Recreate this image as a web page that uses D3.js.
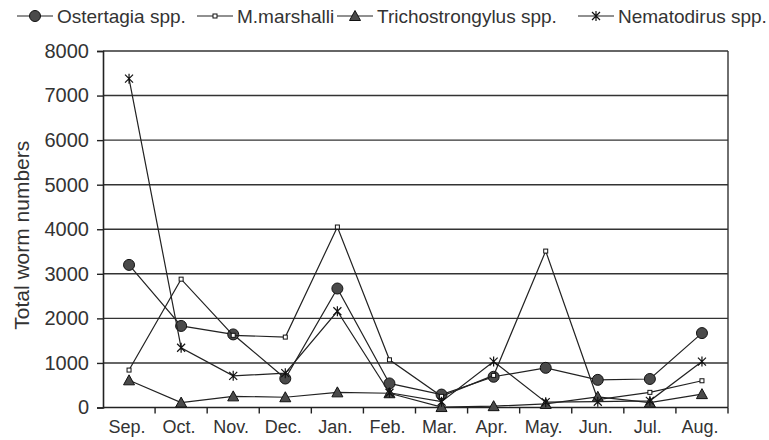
<!DOCTYPE html>
<html>
<head>
<meta charset="utf-8">
<script src="https://cdn.jsdelivr.net/npm/d3@7"></script>
<style>
  body { margin: 0; background: #fff; overflow: hidden; }
  text { font-family: "Liberation Sans", Arial, sans-serif; fill: #333; }
</style>
</head>
<body>
<div id="chart"></div>
<script>
// months on the x axis
var months = ["Sep.", "Oct.", "Nov.", "Dec.", "Jan.", "Feb.", "Mar.", "Apr.", "May.", "Jun.", "Jul.", "Aug."];
// worm counts
var ostertagia = [3200, 1830, 1640, 650, 2670, 540, 290, 690, 890, 620, 640, 1670];
var marshalli = [840, 2880, 1620, 1580, 4050, 1070, 250, 720, 3510, 180, 340, 600];
var trichostrongylus = [610, 110, 250, 230, 340, 320, 10, 30, 80, 240, 110, 300];
var nematodirus = [7380, 1340, 710, 770, 2160, 330, 130, 1030, 120, 130, 150, 1030];
var yTicks = [0, 1000, 2000, 3000, 4000, 5000, 6000, 7000, 8000];

var series = [
  {name: "Ostertagia spp.", values: ostertagia, marker: "circle"},
  {name: "M.marshalli", values: marshalli, marker: "square"},
  {name: "Trichostrongylus spp.", values: trichostrongylus, marker: "triangle"},
  {name: "Nematodirus spp.", values: nematodirus, marker: "star"}
];

var w = 769, h = 440;
var pLeft = 103, pRight = 728, pTop = 51, pBottom = 407.5;

var svg = d3.select("#chart").append("svg")
  .attr("width", w)
  .attr("height", h);

var x = d3.scaleBand().domain(months).range([pLeft, pRight]).padding(0);
var y = d3.scaleLinear().domain([0, 8000]).range([pBottom, pTop]);
var cx = function(i) { return x(months[i]) + x.bandwidth() / 2; };

// grid lines
svg.append("g").selectAll("line")
  .data(yTicks.filter(function(d) { return d > 0; }))
  .enter().append("line")
  .attr("x1", pLeft).attr("x2", pRight)
  .attr("y1", function(d) { return y(d); })
  .attr("y2", function(d) { return y(d); })
  .attr("stroke", "#333").attr("stroke-width", 1.4);

// right border
svg.append("line")
  .attr("x1", pRight).attr("x2", pRight).attr("y1", pTop).attr("y2", pBottom)
  .attr("stroke", "#333").attr("stroke-width", 1.4);

// y axis
var yAxis = svg.append("g")
  .attr("transform", "translate(" + pLeft + ",0)")
  .call(d3.axisLeft(y).tickValues(yTicks).tickSize(6).tickPadding(8).tickFormat(d3.format("d")));
yAxis.select(".domain").attr("stroke", "#222").attr("stroke-width", 1.6);
yAxis.selectAll(".tick line").attr("stroke", "#222").attr("stroke-width", 1.4);
yAxis.selectAll("text").attr("font-size", "20px").attr("fill", "#333")
  .style("font-family", "'Liberation Sans', Arial, sans-serif");

// x axis
svg.append("line")
  .attr("x1", pLeft).attr("x2", pRight).attr("y1", pBottom).attr("y2", pBottom)
  .attr("stroke", "#222").attr("stroke-width", 1.6);
svg.append("g").selectAll("line")
  .data(months.slice(1).concat(["end"]))
  .enter().append("line")
  .attr("x1", function(d) { return d === "end" ? pRight : x(d); })
  .attr("x2", function(d) { return d === "end" ? pRight : x(d); })
  .attr("y1", pBottom).attr("y2", pBottom + 6)
  .attr("stroke", "#222").attr("stroke-width", 1.4);
svg.append("g").selectAll("text")
  .data(months)
  .enter().append("text")
  .attr("x", function(d, i) { return cx(i) - 2; })
  .attr("y", 433)
  .attr("text-anchor", "middle")
  .attr("font-size", "18px")
  .text(function(d) { return d; });

// y axis title
svg.append("text")
  .attr("transform", "translate(29," + ((pTop + pBottom) / 2 + 6) + ") rotate(-90)")
  .attr("text-anchor", "middle")
  .attr("font-size", "21px")
  .text("Total worm numbers");

// markers
function drawMarker(g, type, px, py) {
  if (type === "circle") {
    g.append("circle").attr("cx", px).attr("cy", py).attr("r", 5.5)
      .attr("fill", "#4a4a4a").attr("stroke", "#111").attr("stroke-width", 1);
  } else if (type === "square") {
    g.append("rect").attr("x", px - 2).attr("y", py - 2).attr("width", 4).attr("height", 4)
      .attr("fill", "#fff").attr("stroke", "#111").attr("stroke-width", 1);
  } else if (type === "triangle") {
    g.append("path")
      .attr("d", "M" + px + "," + (py - 5.5) + " L" + (px + 5.5) + "," + (py + 4.5) + " L" + (px - 5.5) + "," + (py + 4.5) + " Z")
      .attr("fill", "#4a4a4a").attr("stroke", "#111").attr("stroke-width", 1);
  } else {
    var s = 4;
    g.append("path")
      .attr("d", "M" + (px - s) + "," + (py - s) + " L" + (px + s) + "," + (py + s) +
                 " M" + (px + s) + "," + (py - s) + " L" + (px - s) + "," + (py + s) +
                 " M" + px + "," + (py - s - 1) + " L" + px + "," + (py + s + 1))
      .attr("stroke", "#111").attr("stroke-width", 1.2).attr("fill", "none");
  }
}

var line = d3.line()
  .x(function(d, i) { return cx(i); })
  .y(function(d) { return y(d); });

series.forEach(function(s) {
  var g = svg.append("g");
  g.append("path").attr("d", line(s.values))
    .attr("fill", "none").attr("stroke", "#222").attr("stroke-width", 1.2);
  s.values.forEach(function(v, i) { drawMarker(g, s.marker, cx(i), y(v)); });
});

// legend
var legendX = [17, 197, 337, 578];
var lg = svg.append("g");
series.forEach(function(s, i) {
  var lx = legendX[i];
  lg.append("line").attr("x1", lx).attr("x2", lx + 36).attr("y1", 16).attr("y2", 16)
    .attr("stroke", "#222").attr("stroke-width", 1.2);
  drawMarker(lg, s.marker, lx + 18, 16);
  lg.append("text").attr("x", lx + 40).attr("y", 23)
    .attr("font-size", "19px").text(s.name);
});
</script>
</body>
</html>
